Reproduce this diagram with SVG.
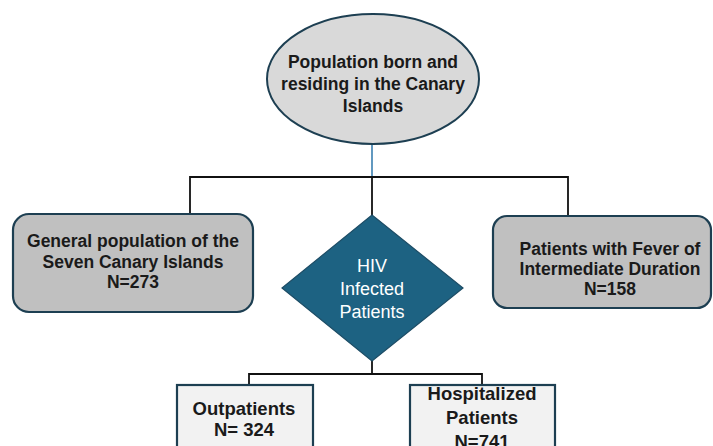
<svg xmlns="http://www.w3.org/2000/svg" width="713" height="446" viewBox="0 0 713 446">
<style>
.t{font-family:"Liberation Sans",Arial,sans-serif;font-weight:bold;fill:#1a1a1a;text-anchor:middle}
.w{font-family:"Liberation Sans",Arial,sans-serif;fill:#ffffff;text-anchor:middle;font-size:18px}
.gbox{fill:#c0c0c0;stroke:#1d3f52;stroke-width:2.2}
.lbox{fill:#f2f2f2;stroke:#1d3f52;stroke-width:2.2}
.c{fill:none;stroke:#111;stroke-width:1.8}
</style>
<rect width="713" height="446" fill="#ffffff"/>
<g id="connectors">
<line x1="372" y1="144" x2="372" y2="177" stroke="#3a7fb0" stroke-width="1.6"/>
<polyline class="c" points="190,214 190,177 568,177 568,216"/>
<line class="c" x1="372" y1="177" x2="372" y2="215"/>
<polyline class="c" points="249,385 249,374 482,374 482,385"/>
<line class="c" x1="372" y1="361" x2="372" y2="374"/>
</g>
<g id="population">
<ellipse cx="373" cy="79" rx="106" ry="65" fill="#d9d9d9" stroke="#1d3f52" stroke-width="2"/>
<text class="t" font-size="17.5" x="373" y="68">Population born and</text>
<text class="t" font-size="17.5" x="373" y="90">residing in the Canary</text>
<text class="t" font-size="17.5" x="373" y="112">Islands</text>
</g>
<g id="general">
<rect class="gbox" x="13" y="214" width="240" height="98" rx="16"/>
<text class="t" font-size="17.5" x="133" y="247">General population of the</text>
<text class="t" font-size="17.5" x="133" y="268">Seven Canary Islands</text>
<text class="t" font-size="17.5" x="133" y="288">N=273</text>
</g>
<g id="fever">
<rect class="gbox" x="493" y="216" width="218" height="92" rx="14"/>
<text class="t" font-size="17.5" x="610" y="255">Patients with Fever of</text>
<text class="t" font-size="17.5" x="610" y="275">Intermediate Duration</text>
<text class="t" font-size="17.5" x="610" y="295">N=158</text>
</g>
<g id="hiv">
<polygon points="372,215 463,288 372,361 282,288" fill="#1d6282" stroke="#1d4d66" stroke-width="1.2"/>
<text class="w" x="372" y="272">HIV</text>
<text class="w" x="372" y="295">Infected</text>
<text class="w" x="372" y="318">Patients</text>
</g>
<g id="outpatients">
<rect class="lbox" x="177" y="385" width="136" height="70"/>
<text class="t" font-size="18.5" x="244" y="415">Outpatients</text>
<text class="t" font-size="18.5" x="244" y="436">N= 324</text>
</g>
<g id="hospitalized">
<rect class="lbox" x="410" y="385" width="145" height="70"/>
<text class="t" font-size="18.5" x="482" y="400">Hospitalized</text>
<text class="t" font-size="18.5" x="482" y="424">Patients</text>
<text class="t" font-size="18.5" x="482" y="448">N=741</text>
</g>
</svg>
